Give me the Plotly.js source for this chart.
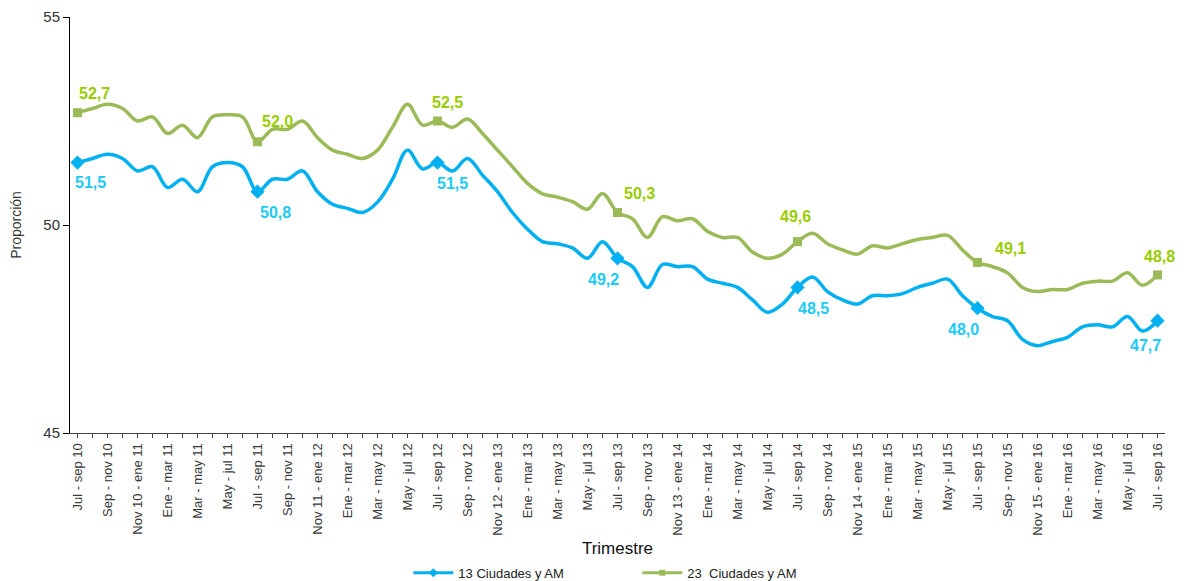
<!DOCTYPE html>
<html>
<head>
<meta charset="utf-8">
<script src="https://cdn.plot.ly/plotly-3.0.1.min.js"></script>
<style>html,body{margin:0;padding:0;background:#fff;}#chart{width:1185px;height:581px;}</style>
</head>
<body>
<div id="chart"></div>
<script>
// Categories: rolling quarters, Jul-sep 10 .. Jul-sep 16
const categories = [
  "Jul - sep 10","Ago - oct 10","Sep - nov 10","Oct - dic 10","Nov 10 - ene 11","Dic 10 - feb 11",
  "Ene - mar 11","Feb - abr 11","Mar - may 11","Abr - jun 11","May - jul 11","Jun - ago 11",
  "Jul - sep 11","Ago - oct 11","Sep - nov 11","Oct - dic 11","Nov 11 - ene 12","Dic 11 - feb 12",
  "Ene - mar 12","Feb - abr 12","Mar - may 12","Abr - jun 12","May - jul 12","Jun - ago 12",
  "Jul - sep 12","Ago - oct 12","Sep - nov 12","Oct - dic 12","Nov 12 - ene 13","Dic 12 - feb 13",
  "Ene - mar 13","Feb - abr 13","Mar - may 13","Abr - jun 13","May - jul 13","Jun - ago 13",
  "Jul - sep 13","Ago - oct 13","Sep - nov 13","Oct - dic 13","Nov 13 - ene 14","Dic 13 - feb 14",
  "Ene - mar 14","Feb - abr 14","Mar - may 14","Abr - jun 14","May - jul 14","Jun - ago 14",
  "Jul - sep 14","Ago - oct 14","Sep - nov 14","Oct - dic 14","Nov 14 - ene 15","Dic 14 - feb 15",
  "Ene - mar 15","Feb - abr 15","Mar - may 15","Abr - jun 15","May - jul 15","Jun - ago 15",
  "Jul - sep 15","Ago - oct 15","Sep - nov 15","Oct - dic 15","Nov 15 - ene 16","Dic 15 - feb 16",
  "Ene - mar 16","Feb - abr 16","Mar - may 16","Abr - jun 16","May - jul 16","Jun - ago 16",
  "Jul - sep 16"
];

const ciudades13 = [
  51.5,51.6,51.7,51.6,51.3,51.4,50.9,51.1,50.8,51.4,51.5,51.4,
  50.8,51.1,51.1,51.3,50.8,50.5,50.4,50.3,50.55,51.1,51.8,51.35,
  51.5,51.3,51.6,51.2,50.8,50.3,49.9,49.6,49.55,49.45,49.2,49.6,
  49.2,49.0,48.5,49.05,49.0,49.0,48.7,48.6,48.5,48.2,47.9,48.1,
  48.5,48.75,48.4,48.2,48.1,48.3,48.3,48.35,48.5,48.6,48.7,48.3,
  48.0,47.8,47.7,47.25,47.1,47.2,47.3,47.55,47.6,47.55,47.8,47.45,
  47.7
];

const ciudades23 = [
  52.7,52.8,52.9,52.8,52.5,52.6,52.2,52.4,52.1,52.6,52.65,52.6,
  52.0,52.3,52.3,52.5,52.1,51.8,51.7,51.6,51.8,52.35,52.9,52.4,
  52.5,52.35,52.55,52.2,51.8,51.4,51.0,50.75,50.67,50.56,50.38,50.76,
  50.3,50.15,49.7,50.2,50.1,50.15,49.85,49.7,49.7,49.35,49.2,49.3,
  49.6,49.8,49.55,49.4,49.3,49.5,49.45,49.55,49.65,49.7,49.75,49.4,
  49.1,49.0,48.85,48.5,48.4,48.45,48.45,48.6,48.65,48.65,48.85,48.55,
  48.8
];

const tickLabels = categories.map((c, i) => (i % 2 === 0 ? c : ""));

const BLUE = "#00B0F0", BLUE_TXT = "#1CCAF5";
const GREEN = "#9BBB59", GREEN_TXT = "#99CC00";

const markIdx = categories.map((c, i) => i).filter(i => i % 12 === 0);
const fmt = v => v.toFixed(1).replace(".", ",");

// label offsets in pixels (style only)
const blueShift = [[13,-20],[18,-21],[15,-21],[-14,-21],[16,-21],[-14,-21],[-12,-25]];
const greenShift = [[17,19],[20,20],[10,19],[22,19],[-2,25],[33,14],[2,18]];

const labelFont = (c) => ({family: "Liberation Sans, Arial, sans-serif", size: 16, color: c, weight: "bold"});

const traces = [
  {x: categories, y: ciudades23, mode: "lines", line: {color: GREEN, width: 3.5, shape: "spline", smoothing: 1}, showlegend: false, hoverinfo: "skip"},
  {x: categories, y: ciudades13, mode: "lines", line: {color: BLUE, width: 3.5, shape: "spline", smoothing: 1}, showlegend: false, hoverinfo: "skip"},
  {x: markIdx.map(i => categories[i]), y: markIdx.map(i => ciudades23[i]), mode: "markers",
   marker: {symbol: "square", size: 9, color: GREEN}, showlegend: false, cliponaxis: false},
  {x: markIdx.map(i => categories[i]), y: markIdx.map(i => ciudades13[i]), mode: "markers",
   marker: {symbol: "diamond", size: 11, color: BLUE}, showlegend: false, cliponaxis: false},
  {x: [null], y: [null], mode: "lines+markers", name: "13 Ciudades y AM",
   line: {color: BLUE, width: 3}, marker: {symbol: "diamond", size: 7, color: BLUE}},
  {x: [null], y: [null], mode: "lines+markers", name: "23  Ciudades y AM",
   line: {color: GREEN, width: 3}, marker: {symbol: "square", size: 6, color: GREEN}}
];

const annotations = [];
markIdx.forEach((i, k) => {
  annotations.push({x: categories[i], y: ciudades23[i], xref: "x", yref: "y", text: fmt(ciudades23[i]),
    showarrow: false, xshift: greenShift[k][0], yshift: greenShift[k][1], font: labelFont(GREEN_TXT)});
  annotations.push({x: categories[i], y: ciudades13[i], xref: "x", yref: "y", text: fmt(ciudades13[i]),
    showarrow: false, xshift: blueShift[k][0], yshift: blueShift[k][1], font: labelFont(BLUE_TXT)});
});

const layout = {
  width: 1185, height: 581,
  margin: {l: 70, r: 20, t: 17, b: 148},
  paper_bgcolor: "#fff", plot_bgcolor: "#fff",
  font: {family: "Liberation Sans, Arial, sans-serif", color: "#333"},
  showlegend: true,
  annotations: annotations,
  legend: {orientation: "h", x: 0.309, xanchor: "left", yref: "container", y: 0.014, yanchor: "middle",
           font: {size: 13, color: "#222"}, entrywidth: 174, entrywidthmode: "pixels", itemwidth: 40},
  xaxis: {
    type: "category", range: [-0.5, 72.5], tickmode: "array",
    tickvals: categories, ticktext: tickLabels, tickangle: -90,
    tickfont: {size: 13, color: "#3a3a3a"}, ticks: "outside", ticklen: 4, tickcolor: "#444",
    showline: true, linecolor: "#444", linewidth: 1, showgrid: false, zeroline: false,
    title: {text: "Trimestre", font: {size: 17, color: "#111"}, standoff: 16}, automargin: false
  },
  yaxis: {
    range: [45, 55], tickvals: [45, 50, 55], ticks: "outside", ticklen: 6, tickcolor: "#000",
    tickfont: {size: 15, color: "#333"}, showline: true, linecolor: "#000", linewidth: 1,
    showgrid: false, zeroline: false,
    title: {text: "Proporción", font: {size: 14, color: "#333"}, standoff: 18}, automargin: false
  }
};

Plotly.newPlot("chart", traces, layout, {displayModeBar: false, staticPlot: true});
</script>
</body>
</html>
